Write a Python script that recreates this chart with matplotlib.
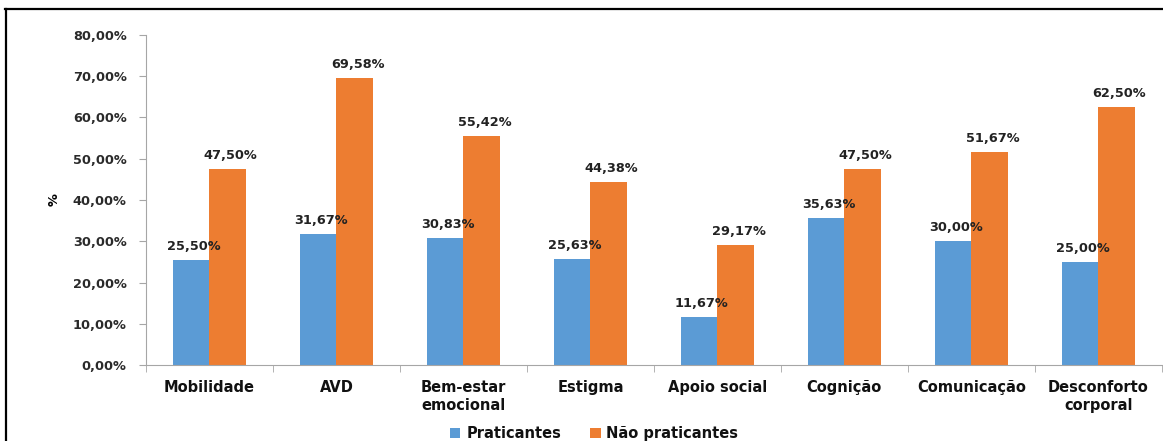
import matplotlib
matplotlib.use("Agg")
import matplotlib.pyplot as plt
from matplotlib.lines import Line2D
import numpy as np

categories = ["Mobilidade", "AVD", "Bem-estar\nemocional", "Estigma", "Apoio social",
              "Cognição", "Comunicação", "Desconforto\ncorporal"]
praticantes = [25.50, 31.67, 30.83, 25.63, 11.67, 35.63, 30.00, 25.00]
nao_praticantes = [47.50, 69.58, 55.42, 44.38, 29.17, 47.50, 51.67, 62.50]
yticks = [0, 10, 20, 30, 40, 50, 60, 70, 80]

blue = "#5B9BD5"
orange = "#ED7D31"
font = ["DejaVu Sans"]
plt.rcParams['font.family'] = font

fig = plt.figure(figsize=(11.63, 4.41), dpi=100)
ax = fig.add_axes([0.1255, 0.172, 0.8735, 0.749])

x = np.arange(len(categories))
w = 0.29
b1 = ax.bar(x - w/2, praticantes, w, color=blue, label="Praticantes")
b2 = ax.bar(x + w/2, nao_praticantes, w, color=orange, label="Não praticantes")

def fmt(v):
    return f"{v:.2f}".replace(".", ",") + "%"

for bars, vals in ((b1, praticantes), (b2, nao_praticantes)):
    for r, v in zip(bars, vals):
        ax.annotate(fmt(v), (r.get_x() + r.get_width()/2, v), xytext=(2, 5),
                    textcoords="offset points", ha="center", va="bottom",
                    fontsize=9.3, fontweight="bold", color="#222222")

ax.set_xlim(-0.5, len(categories) - 0.5)
ax.set_ylim(0, 80)
ax.set_yticks(yticks)
ax.set_yticklabels([fmt(v) for v in yticks], fontsize=9.3, fontweight="bold", color="#2a2a2a")
ax.set_xticks(x)
ax.set_xticklabels(categories, fontsize=10.5, fontweight="bold", color="#111111", linespacing=1.25)
ax.set_xticks(np.arange(-0.5, len(categories), 1), minor=True)
ax.tick_params(axis="x", which="major", length=0, pad=11)
ax.tick_params(axis="x", which="minor", length=5, color="#A6A6A6", direction="out")
ax.tick_params(axis="y", length=5, color="#A6A6A6", pad=9)
for s in ("top", "right"):
    ax.spines[s].set_visible(False)
for s in ("left", "bottom"):
    ax.spines[s].set_color("#A6A6A6")
ax.set_ylabel("%", fontsize=9.3, fontweight="bold", labelpad=9)

leg = fig.legend(handles=[b1, b2], loc="center", bbox_to_anchor=(0.511, 0.016), ncol=2,
                 frameon=False, handlelength=0.7, handleheight=0.7,
                 columnspacing=2.0, handletextpad=0.4,
                 prop={"weight": "bold", "size": 10.5, "family": font})
for t in leg.get_texts():
    t.set_color("#111111")

fig.add_artist(Line2D([5/1163, 1.0], [1 - 8.5/441, 1 - 8.5/441], color="black", lw=1.6,
                      transform=fig.transFigure))
fig.add_artist(Line2D([6/1163, 6/1163], [0, 1 - 8.5/441], color="black", lw=1.6,
                      transform=fig.transFigure))

fig.savefig("out.png", dpi=100)
